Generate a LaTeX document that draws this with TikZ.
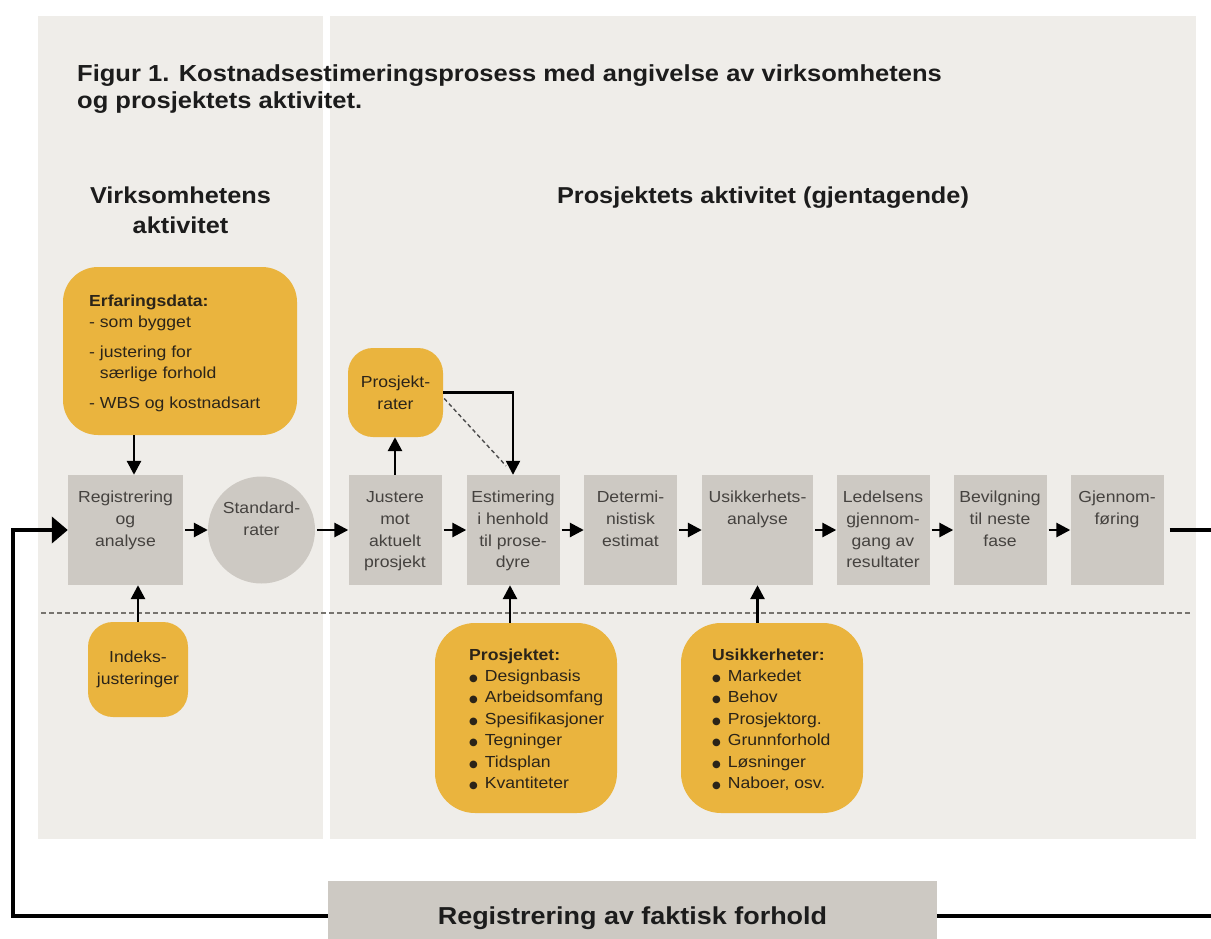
\documentclass[tikz,border=0pt]{standalone}
\usepackage{fontspec}
\setmainfont{Liberation Sans}[FakeStretch=1.1]
\newfontfamily\dejavu{DejaVu Sans}
\usetikzlibrary{arrows.meta}
\definecolor{panel}{HTML}{EFEDE9}
\definecolor{boxgray}{HTML}{CDC9C3}
\definecolor{gold}{HTML}{EAB43E}
\definecolor{boxtxt}{HTML}{45423F}
\definecolor{goldtxt}{HTML}{2B2419}
\definecolor{titletxt}{HTML}{1C1C1C}
\definecolor{dashgray}{HTML}{77746F}
\newcommand\blt{{\dejavu\fontsize{10}{21.4}\selectfont ●}\hspace{2pt} }
\begin{document}
\begin{tikzpicture}[x=1pt,y=-1pt,
  pbox/.style={fill=boxgray, draw=none, minimum width=93pt, minimum height=110pt, inner sep=0pt},
  plabel/.style={anchor=north, align=center, inner sep=0pt, yshift=-12.5pt, text=boxtxt, font=\fontsize{16}{21.7}\selectfont},
  ybox/.style={fill=gold, draw=none, inner sep=0pt, text=goldtxt, align=center, font=\fontsize{16}{21.7}\selectfont},
  ytext/.style={anchor=north west, align=left, inner sep=0pt, text=goldtxt, font=\fontsize{16}{21.4}\selectfont},
  heading/.style={anchor=north, align=center, inner sep=0pt, text=titletxt, font=\bfseries\fontsize{23}{30}\selectfont},
  flow/.style={line width=2.8pt, -{Triangle[length=14pt,width=14pt]}, shorten <=2pt},
  loopline/.style={line width=4.5pt, line join=miter},
  sepline/.style={dashgray, line width=1.3pt, dash pattern=on 5pt off 3pt},
  diagdash/.style={black!70, line width=1.4pt, dash pattern=on 4pt off 3pt}
]
\useasboundingbox (0,0) rectangle (1211,938);
\clip (0,0) rectangle (1211,938);
\fill[white] (0,0) rectangle (1211,938);
% panels
\fill[panel] (38,16) rectangle (323,839);
\fill[panel] (330,16) rectangle (1196,839);

% title and headings
\node[anchor=north west, align=left, inner sep=0pt, text=titletxt, font=\bfseries\fontsize{23.2}{27}\selectfont] (title) at (77,62)
  {\strut Figur 1. Kostnadsestimeringsprosess med angivelse av virksomhetens\\og prosjektets aktivitet.};
\node[heading] (vh) at (180.5,182) {\strut Virksomhetens\\aktivitet};
\node[heading] (ph) at (763,182) {\strut Prosjektets aktivitet (gjentagende)};

% separator
\coordinate (d1) at (41,613);
\coordinate (d2) at (1192,613);
\draw[sepline] (d1) -- (d2);

% process boxes
\node[pbox, minimum width=115pt, label={[plabel]north:\strut Registrering\\og\\analyse}] (reg) at (125.5,530) {};
\node[circle, fill=boxgray, minimum size=107pt, inner sep=0pt,
  label={[anchor=center, align=center, inner sep=0pt, text=boxtxt, font=\fontsize{16}{21.7}\selectfont, yshift=11pt]center:Standard-\\rater}] (std) at (261.5,530) {};
\node[pbox, label={[plabel]north:\strut Justere\\mot\\aktuelt\\prosjekt}] (jus) at (395,530) {};
\node[pbox, label={[plabel]north:\strut Estimering\\i henhold\\til prose-\\dyre}] (est) at (513,530) {};
\node[pbox, label={[plabel]north:\strut Determi-\\nistisk\\estimat}] (det) at (630.5,530) {};
\node[pbox, minimum width=111pt, label={[plabel]north:\strut Usikkerhets-\\analyse}] (usa) at (757.5,530) {};
\node[pbox, label={[plabel]north:\strut Ledelsens\\gjennom-\\gang av\\resultater}] (led) at (883,530) {};
\node[pbox, label={[plabel]north:\strut Bevilgning\\til neste\\fase}] (bev) at (1000,530) {};
\node[pbox, label={[plabel]north:\strut Gjennom-\\føring}] (gjen) at (1117,530) {};

% yellow boxes
\node[ybox, minimum width=234pt, minimum height=168pt, rounded corners=35pt] (erf) at (180,351) {};
\node[ytext, font=\fontsize{16}{20.5}\selectfont] (erft) at (89,292)
  {\strut\textbf{Erfaringsdata:}\\- som bygget\\[10pt]- justering for\\\phantom{- }særlige forhold\\[10pt]- WBS og kostnadsart};
\node[ybox, minimum width=95pt, minimum height=89pt, rounded corners=25pt] (prate) at (395.5,392.5) {Prosjekt-\\rater};
\node[ybox, minimum width=100pt, minimum height=95pt, rounded corners=25pt] (ind) at (138,669.5) {Indeks-\\justeringer};
\node[ybox, minimum width=182pt, minimum height=190pt, rounded corners=40pt] (pro) at (526,718) {};
\node[ytext] (prot) at (469,645)
  {\strut\textbf{Prosjektet:}\\\blt Designbasis\\\blt Arbeidsomfang\\\blt Spesifikasjoner\\\blt Tegninger\\\blt Tidsplan\\\blt Kvantiteter};
\node[ybox, minimum width=182pt, minimum height=190pt, rounded corners=40pt] (usk) at (772,718) {};
\node[ytext] (uskt) at (712,645)
  {\strut\textbf{Usikkerheter:}\\\blt Markedet\\\blt Behov\\\blt Prosjektorg.\\\blt Grunnforhold\\\blt Løsninger\\\blt Naboer, osv.};

% bottom box
\node[fill=boxgray, minimum width=609pt, minimum height=70pt, inner sep=0pt,
  label={[anchor=base, inner sep=0pt, text=titletxt, font=\bfseries\fontsize{24.5}{29}\selectfont, yshift=-2pt]center:Registrering av faktisk forhold}] (bot) at (632.5,916) {};

% horizontal flow
\draw[flow] (reg.east) -- (std.west);
\draw[flow] (std.east) -- (jus.west);
\draw[flow] (jus.east) -- (est.west);
\draw[flow] (est.east) -- (det.west);
\draw[flow] (det.east) -- (usa.west);
\draw[flow] (usa.east) -- (led.west);
\draw[flow] (led.east) -- (bev.west);
\draw[flow] (bev.east) -- (gjen.west);

% vertical inputs
\coordinate (xa) at (134,0);
\coordinate (xc) at (510,0);
\draw[flow, shorten <=0pt] (erf.south -| xa) -- (reg.north -| xa);
\draw[flow, shorten <=0pt] (ind.north) -- (reg.south -| ind.north);
\draw[flow, shorten <=0pt] (pro.north -| xc) -- (est.south -| xc);
\draw[flow, shorten <=0pt] (usk.north -| usa.south) -- (usa.south);
\draw[flow, shorten <=0pt] (jus.north) -- (prate.south -| jus.north);
\draw[line width=2.4pt, line join=miter, -{Triangle[length=14pt,width=14pt]}] (prate.east) -| (est.north);
\draw[diagdash] ([xshift=1pt,yshift=-6pt]prate.east) -- ([xshift=-7pt,yshift=9pt]est.north);

% feedback loop
\coordinate (rc1) at (1218,530);
\coordinate (rc2) at (1218,916);
\coordinate (lc1) at (13,916);
\coordinate (lc2) at (13,530);
\draw[loopline, shorten <=6pt] (gjen.east) -- (rc1) -- (rc2) -- (bot.east);
\draw[loopline, -{Triangle[length=16pt,width=26pt]}] (bot.west) -- (lc1) -- (lc2) -- (reg.west);
\end{tikzpicture}
\end{document}
